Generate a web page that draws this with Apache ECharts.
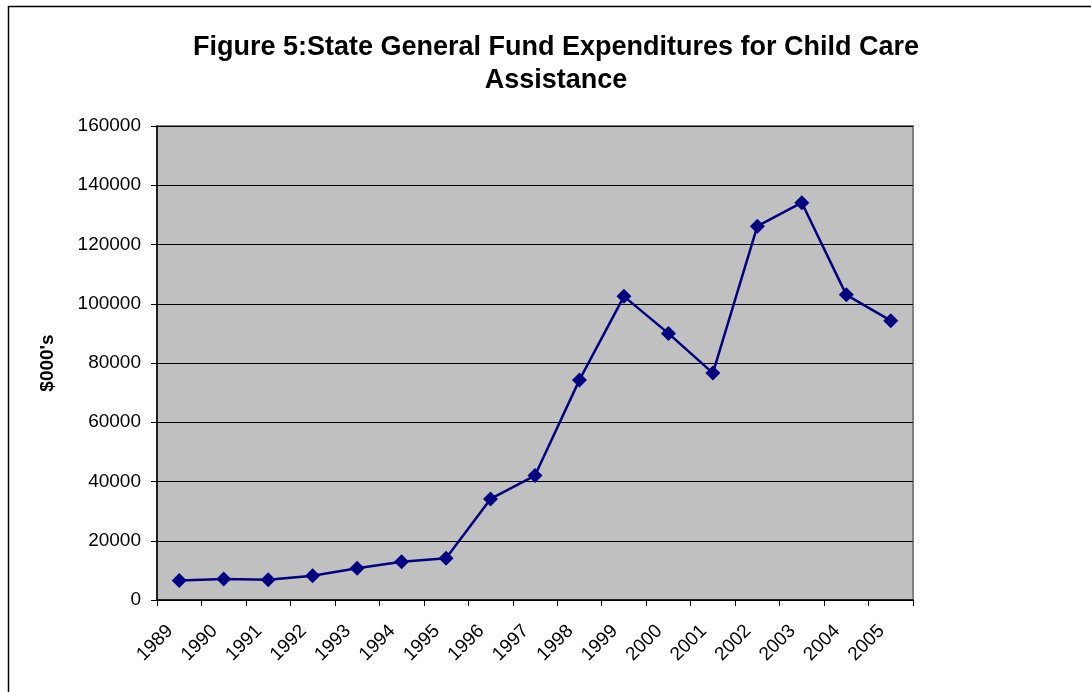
<!DOCTYPE html>
<html>
<head>
<meta charset="utf-8">
<script src="https://cdn.jsdelivr.net/npm/echarts@6/dist/echarts.min.js"></script>
<style>
  html, body { margin: 0; padding: 0; background: #fff; }
  #chart { width: 1091px; height: 692px; }
</style>
</head>
<body>
<div id="chart"></div>
<script>
const titleText = 'Figure 5:State General Fund Expenditures for Child Care\nAssistance';
const yAxisName = "$000's";
const categories = ['1989','1990','1991','1992','1993','1994','1995','1996','1997','1998','1999','2000','2001','2002','2003','2004','2005'];
const expenditures = [6600, 7100, 6800, 8200, 10700, 12900, 14100, 34100, 42000, 74300, 102500, 90000, 76600, 126200, 134100, 103000, 94300];
const yMin = 0, yMax = 160000, yStep = 20000;

const labelCategories = categories.concat(['']);

const chart = echarts.init(document.getElementById('chart'), null, { renderer: 'canvas' });
chart.setOption({
  backgroundColor: '#ffffff',
  animation: false,
  graphic: [{
    type: 'rect', left: 6, top: 4, z: -1,
    shape: { x: 0, y: 0, width: 1200, height: 800 },
    style: { fill: 'none', stroke: '#000', lineWidth: 1.5 }
  }],
  title: {
    text: titleText,
    left: 551, top: 26, textAlign: 'center',
    textStyle: { fontFamily: 'Liberation Sans', fontWeight: 'bold', fontSize: 27, lineHeight: 33, color: '#000' }
  },
  grid: [
    { left: 157, right: 178, top: 126, bottom: 92, show: true, backgroundColor: '#C0C0C0', borderColor: '#808080', borderWidth: 2 },
    { left: 170, right: 165, top: 126, bottom: 92, show: false }
  ],
  xAxis: [
    {
      type: 'category', gridIndex: 0, data: categories, boundaryGap: true,
      axisLine: { show: true, lineStyle: { color: '#000', width: 1.5 } },
      axisTick: { show: true, length: 6, lineStyle: { color: '#000', width: 1 } },
      axisLabel: { show: false },
      splitLine: { show: false }
    },
    {
      type: 'category', gridIndex: 1, data: labelCategories, boundaryGap: false,
      axisLine: { show: false }, axisTick: { show: false }, splitLine: { show: false },
      axisLabel: { show: true, interval: 0, rotate: 45, margin: 28, color: '#000', fontFamily: 'Liberation Sans', fontSize: 19 }
    }
  ],
  yAxis: [
    {
      type: 'value', gridIndex: 0, min: yMin, max: yMax, interval: yStep,
      name: yAxisName, nameLocation: 'middle', nameGap: 100, nameRotate: 90,
      nameTextStyle: { fontFamily: 'Liberation Sans', fontWeight: 'bold', fontSize: 19, color: '#000' },
      axisLine: { show: true, lineStyle: { color: '#000', width: 1.5 } },
      axisTick: { show: true, length: 6, lineStyle: { color: '#000', width: 1 } },
      axisLabel: { margin: 16, color: '#000', fontFamily: 'Liberation Sans', fontSize: 19, formatter: function (v) { return String(v); } },
      splitLine: { show: true, lineStyle: { color: '#000', width: 1 } }
    },
    { type: 'value', gridIndex: 1, show: false, min: yMin, max: yMax }
  ],
  series: [{
    type: 'line', xAxisIndex: 0, yAxisIndex: 0,
    data: expenditures,
    symbol: 'diamond', symbolSize: 15,
    lineStyle: { color: '#000080', width: 2.5 },
    itemStyle: { color: '#000080' }
  }]
});
</script>
</body>
</html>
